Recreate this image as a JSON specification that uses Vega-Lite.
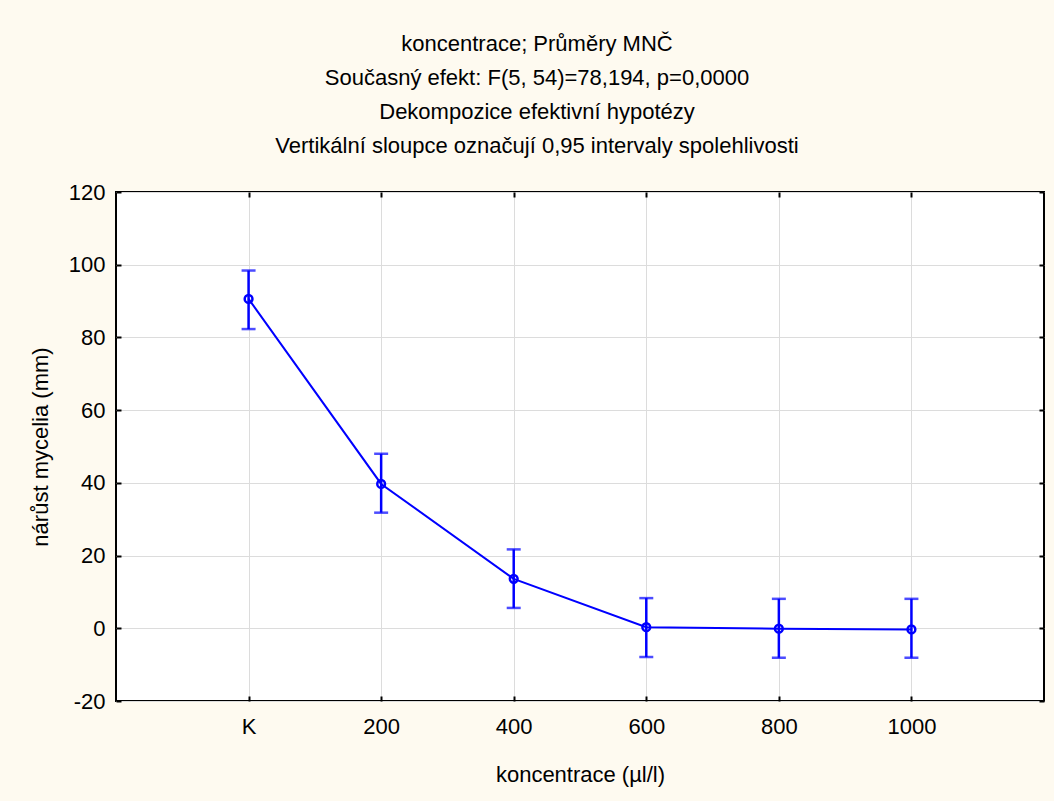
{
  "$schema": "https://vega.github.io/schema/vega-lite/v6.json",
  "width": 928,
  "height": 509,
  "autosize": "none",
  "padding": {"left": 116, "top": 192, "right": 10, "bottom": 100},
  "background": "#fefaf0",
  "view": {"fill": "white", "stroke": "black", "strokeWidth": 2},
  "config": {
    "font": "Liberation Sans",
    "axis": {
      "labelFont": "Liberation Sans",
      "labelFontSize": 22,
      "labelColor": "black",
      "titleFont": "Liberation Sans",
      "titleFontSize": 22,
      "titleFontWeight": "normal",
      "titleColor": "black",
      "gridColor": "#dcdcdc",
      "gridWidth": 1,
      "domain": false,
      "tickColor": "black",
      "tickWidth": 2,
      "tickSize": -5
    }
  },
  "title": {
    "text": ["koncentrace; Průměry MNČ", "Současný efekt: F(5, 54)=78,194, p=0,0000", "Dekompozice efektivní hypotézy", "Vertikální sloupce označují 0,95 intervaly spolehlivosti"],
    "font": "Liberation Sans",
    "fontSize": 22,
    "fontWeight": "normal",
    "color": "black",
    "lineHeight": 34,
    "offset": 23,
    "dx": -43
  },
  "data": {
    "values": [
      {"c": "K", "mean": 90.6, "lo": 82.3, "hi": 98.4},
      {"c": "200", "mean": 39.7, "lo": 31.8, "hi": 48.0},
      {"c": "400", "mean": 13.6, "lo": 5.6, "hi": 21.7},
      {"c": "600", "mean": 0.3, "lo": -7.9, "hi": 8.3},
      {"c": "800", "mean": -0.1, "lo": -8.1, "hi": 8.1},
      {"c": "1000", "mean": -0.3, "lo": -8.1, "hi": 8.1}
    ]
  },
  "layer": [
    {
      "layer": [
        {
          "mark": {"type": "rule", "color": "#0000ff", "strokeWidth": 2.5},
          "encoding": {
            "x": {"field": "c", "type": "ordinal", "scale": {"type": "point", "padding": 1, "domain": ["K", "200", "400", "600", "800", "1000"]}, "axis": {"title": "koncentrace (µl/l)", "labelAngle": 0, "labelPadding": 20, "titlePadding": 27, "grid": true}},
            "y": {"field": "lo", "type": "quantitative", "scale": {"domain": [-20, 120], "nice": false, "zero": false}, "axis": {"title": "nárůst mycelia (mm)", "values": [-20, 0, 20, 40, 60, 80, 100, 120], "labelExpr": "'' + datum.value", "labelPadding": 16, "titlePadding": 16, "grid": true}},
            "y2": {"field": "hi"}
          }
        },
        {
          "mark": {"type": "tick", "orient": "horizontal", "color": "#0000ff", "size": 14, "thickness": 2.5},
          "encoding": {"x": {"field": "c", "type": "ordinal"}, "y": {"field": "lo", "type": "quantitative"}}
        },
        {
          "mark": {"type": "tick", "orient": "horizontal", "color": "#0000ff", "size": 14, "thickness": 2.5},
          "encoding": {"x": {"field": "c", "type": "ordinal"}, "y": {"field": "hi", "type": "quantitative"}}
        },
        {
          "mark": {"type": "line", "color": "#0000ff", "strokeWidth": 2},
          "encoding": {"x": {"field": "c", "type": "ordinal"}, "y": {"field": "mean", "type": "quantitative"}}
        },
        {
          "mark": {"type": "point", "shape": "circle", "filled": false, "color": "#0000ff", "size": 60, "strokeWidth": 2.5, "opacity": 1},
          "encoding": {"x": {"field": "c", "type": "ordinal"}, "y": {"field": "mean", "type": "quantitative"}}
        }
      ]
    },
    {
      "mark": {"type": "point", "opacity": 0},
      "encoding": {
        "x": {"field": "c", "type": "ordinal", "scale": {"type": "point", "padding": 1, "domain": ["K", "200", "400", "600", "800", "1000"]}, "axis": {"orient": "top", "labels": false, "title": null, "grid": false}},
        "y": {"field": "mean", "type": "quantitative", "scale": {"domain": [-20, 120], "nice": false, "zero": false}, "axis": {"orient": "right", "labels": false, "title": null, "grid": false, "values": [-20, 0, 20, 40, 60, 80, 100, 120]}}
      }
    }
  ],
  "resolve": {"scale": {"x": "independent", "y": "independent"}}
}
